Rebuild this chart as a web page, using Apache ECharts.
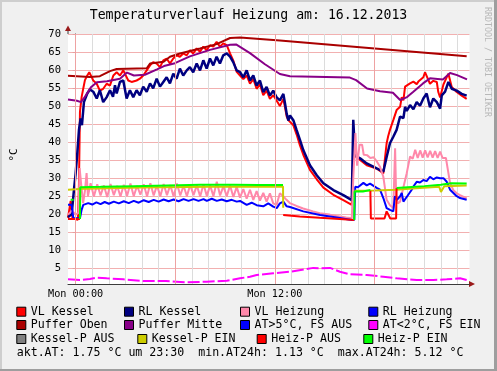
<!DOCTYPE html>
<html><head><meta charset="utf-8">
<script src="https://cdn.jsdelivr.net/npm/echarts@6/dist/echarts.min.js"></script>
<style>html,body{margin:0;padding:0;background:#f0f0f0}#c{width:497px;height:371px}</style>
</head><body><div id="c"></div>
<script>
// ---- data: [hour of day (relative to Mon 00:00), °C] ----
const vlKessel = [[-0.46,19.0],[-0.30,23.7],[-0.19,18.8],[0.14,18.5],[0.20,28.4],[0.26,48.4],[0.36,52.5],[0.46,54.9],[0.56,57.2],[0.70,58.5],[0.82,59.4],[0.96,58.1],[1.06,57.1],[1.27,56.2],[1.46,54.3],[1.57,53.9],[1.66,54.8],[1.87,56.2],[2.07,55.7],[2.27,58.5],[2.47,59.4],[2.67,58.5],[2.87,59.9],[2.97,59.4],[3.17,57.1],[3.37,56.7],[3.67,57.1],[3.87,57.6],[4.07,58.5],[4.28,59.9],[4.48,61.3],[4.67,62.2],[4.88,61.8],[5.08,60.8],[5.28,62.7],[5.48,63.2],[5.68,61.8],[5.88,63.2],[6.08,64.1],[6.28,63.7],[6.48,64.6],[6.69,64.1],[6.88,65.5],[7.08,64.6],[7.29,66.0],[7.49,65.1],[7.69,66.5],[7.89,65.5],[8.09,66.9],[8.29,66.5],[8.49,67.8],[8.69,66.5],[8.89,67.4],[9.10,66.9],[9.30,64.6],[9.49,62.7],[9.70,59.5],[9.90,58.5],[10.10,57.5],[10.30,58.5],[10.50,56.2],[10.70,57.5],[10.90,54.8],[11.10,56.0],[11.30,53.0],[11.50,54.3],[11.70,52.0],[11.90,53.0],[12.11,51.5],[12.30,50.0],[12.51,52.0],[12.61,49.6],[12.71,47.1],[12.81,46.1],[12.91,46.5],[13.11,44.7],[13.31,42.1],[13.51,39.1],[13.71,36.5],[14.11,32.3],[14.52,29.7],[14.92,27.4],[15.52,25.4],[16.12,23.9],[16.63,22.6],[16.72,36.3],[16.90,35.9],[17.53,33.6],[18.13,32.7],[18.53,31.3],[18.73,39.7],[18.83,41.8],[18.93,43.4],[19.13,46.1],[19.33,48.9],[19.54,49.8],[19.64,52.5],[19.74,51.6],[19.84,55.4],[19.94,55.4],[20.14,56.3],[20.34,56.8],[20.54,56.1],[20.64,56.8],[20.74,57.2],[20.94,58.0],[21.04,59.4],[21.14,59.0],[21.34,56.2],[21.54,57.0],[21.75,56.7],[21.84,53.9],[21.95,52.4],[22.15,56.0],[22.25,57.0],[22.45,59.0],[22.65,55.3],[22.95,53.9],[23.25,52.9],[23.55,52.0]];
const rlKessel = [[-0.46,19.2],[-0.24,20.0],[-0.10,26.8],[0.00,31.3],[0.10,36.9],[0.20,43.4],[0.30,46.6],[0.38,44.7],[0.50,51.1],[0.70,53.5],[0.86,54.6],[1.06,54.0],[1.27,52.1],[1.46,54.4],[1.66,51.1],[1.87,52.5],[2.07,54.4],[2.25,52.6],[2.37,55.8],[2.47,53.5],[2.67,56.7],[2.87,57.1],[3.07,52.1],[3.27,54.4],[3.47,52.5],[3.67,54.4],[3.87,53.0],[4.07,55.4],[4.28,54.0],[4.48,56.3],[4.67,54.9],[4.88,57.6],[5.08,55.4],[5.28,56.7],[5.48,58.0],[5.68,56.3],[5.88,59.0],[6.08,57.6],[6.28,60.4],[6.48,58.5],[6.69,59.9],[6.88,60.8],[7.08,59.4],[7.29,61.8],[7.49,59.9],[7.69,62.7],[7.89,60.4],[8.09,63.2],[8.29,61.3],[8.49,63.7],[8.69,61.8],[8.89,64.1],[9.10,64.6],[9.30,63.7],[9.49,62.2],[9.70,59.9],[9.90,59.4],[10.10,58.0],[10.30,59.9],[10.50,57.1],[10.70,58.5],[10.90,55.7],[11.10,57.1],[11.30,53.9],[11.50,55.3],[11.70,52.9],[11.90,54.3],[12.11,52.4],[12.30,51.6],[12.51,53.4],[12.61,50.7],[12.71,47.9],[12.81,46.0],[12.91,47.4],[13.11,46.1],[13.31,43.3],[13.51,40.6],[13.71,37.8],[14.11,33.6],[14.52,30.8],[14.92,28.6],[15.52,26.7],[16.12,25.3],[16.63,23.9],[16.72,46.2],[16.83,36.3],[17.13,35.5],[17.53,34.1],[18.13,32.7],[18.53,31.8],[18.73,35.9],[18.93,39.7],[19.13,41.5],[19.33,43.4],[19.54,47.1],[19.74,46.7],[19.84,49.8],[19.94,48.7],[20.14,50.3],[20.34,49.1],[20.54,51.1],[20.74,50.1],[20.94,52.1],[21.14,53.5],[21.34,49.7],[21.54,52.1],[21.75,51.1],[21.95,49.3],[22.05,53.0],[22.25,54.0],[22.45,56.7],[22.65,54.8],[22.95,54.3],[23.25,53.4],[23.55,52.9]];
const vlHeizung = [[-0.46,19.9],[-0.22,21.0],[0.00,19.9],[0.17,20.4],[0.24,32.8],[0.33,28.5],[0.45,23.1],[0.56,26.5],[0.66,31.4],[0.74,25.0],[0.90,28.6],[1.10,24.9],[1.30,28.3],[1.50,25.2],[1.70,28.0],[1.90,24.8],[2.10,28.4],[2.30,25.3],[2.50,27.9],[2.70,24.9],[2.90,28.2],[3.10,25.1],[3.30,28.5],[3.50,25.0],[3.70,27.9],[3.90,25.4],[4.10,28.3],[4.30,24.9],[4.50,28.6],[4.70,25.2],[4.90,28.0],[5.10,25.0],[5.30,28.4],[5.50,25.3],[5.70,28.1],[5.90,24.9],[6.10,28.5],[6.30,25.2],[6.50,27.9],[6.70,25.0],[6.90,28.2],[7.10,25.3],[7.30,28.0],[7.50,24.9],[7.70,28.3],[7.90,25.1],[8.10,28.0],[8.30,25.0],[8.50,29.0],[8.70,25.2],[8.90,27.8],[9.10,25.0],[9.30,28.0],[9.50,24.8],[9.70,27.6],[9.90,24.6],[10.10,27.0],[10.30,24.3],[10.50,26.8],[10.70,24.0],[10.90,26.4],[11.10,23.8],[11.30,25.9],[11.50,23.5],[11.70,25.8],[11.90,23.0],[12.10,22.6],[12.30,25.8],[12.50,25.0],[12.70,24.0],[12.90,23.1],[13.30,22.3],[13.70,21.6],[14.30,20.8],[14.70,20.3],[15.30,19.9],[15.70,19.5],[16.30,19.1],[16.63,18.9],[16.72,30.0],[16.85,42.5],[16.95,33.5],[17.10,39.3],[17.25,39.3],[17.35,36.5],[17.55,36.4],[17.75,35.6],[17.95,35.8],[18.13,34.7],[18.33,33.2],[18.53,30.4],[18.73,24.0],[18.93,22.5],[19.13,21.7],[19.20,22.0],[19.24,38.3],[19.30,25.5],[19.40,23.0],[19.54,23.5],[19.74,27.5],[19.94,31.4],[20.14,36.0],[20.30,35.4],[20.45,37.9],[20.60,35.6],[20.75,37.7],[20.90,35.7],[21.05,37.7],[21.20,35.8],[21.35,37.6],[21.50,35.7],[21.65,37.5],[21.80,35.6],[21.95,37.4],[22.10,35.6],[22.30,35.6],[22.45,31.4],[22.55,28.6],[22.75,26.7],[22.95,25.8],[23.15,25.3],[23.55,24.4]];
const rlHeizung = [[-0.46,22.6],[-0.24,22.6],[-0.14,18.9],[0.26,18.9],[0.36,21.2],[0.46,22.6],[0.76,23.1],[1.00,22.7],[1.25,23.3],[1.50,22.8],[1.75,23.4],[2.00,22.9],[2.30,23.5],[2.60,23.0],[2.90,23.6],[3.20,23.1],[3.50,23.7],[3.80,23.2],[4.10,23.9],[4.40,23.4],[4.70,24.0],[5.00,23.5],[5.30,24.1],[5.60,23.6],[5.90,24.1],[6.20,23.6],[6.50,24.2],[6.80,23.7],[7.10,24.2],[7.40,23.7],[7.70,24.2],[7.90,23.7],[8.20,24.3],[8.50,23.7],[8.80,24.1],[9.10,23.6],[9.40,24.0],[9.70,23.5],[9.90,23.7],[10.30,22.6],[10.60,23.2],[10.90,22.5],[11.30,22.2],[11.60,23.0],[11.90,22.1],[12.11,21.7],[12.30,23.0],[12.51,23.5],[12.71,22.2],[12.91,22.0],[13.71,20.8],[14.72,19.8],[15.72,19.1],[16.63,18.4],[16.78,18.5],[16.84,27.6],[17.00,27.5],[17.33,28.7],[17.53,28.0],[17.73,28.5],[18.13,27.3],[18.33,26.8],[18.53,24.5],[18.73,21.7],[18.93,21.2],[19.13,20.8],[19.23,25.0],[19.35,24.0],[19.54,25.0],[19.64,25.9],[19.74,23.5],[19.84,23.5],[20.00,25.2],[20.24,26.8],[20.34,27.7],[20.54,29.0],[20.74,28.8],[20.94,29.5],[21.14,29.2],[21.34,30.4],[21.54,29.7],[21.75,30.2],[21.95,30.0],[22.15,30.0],[22.35,29.0],[22.55,26.8],[22.75,25.9],[22.95,25.0],[23.15,24.5],[23.55,24.0]];
const pufferOben = [[-0.46,58.4],[0.86,58.1],[1.46,58.3],[2.07,59.7],[2.47,60.3],[4.28,60.5],[4.48,61.8],[5.30,62.3],[5.68,63.7],[6.28,64.6],[7.49,66.0],[8.49,67.2],[9.30,68.9],[9.90,69.0],[12.30,68.2],[23.55,63.8]];
const pufferMitte = [[-0.46,51.8],[0.08,51.5],[0.32,51.1],[0.50,52.2],[0.92,55.2],[1.28,56.6],[1.89,56.9],[2.67,57.6],[3.09,59.3],[3.51,58.5],[4.17,58.7],[4.90,60.2],[5.32,61.1],[5.98,61.9],[6.88,63.8],[8.09,65.6],[9.30,67.0],[9.66,67.1],[10.50,64.7],[11.40,61.6],[12.30,58.9],[12.91,58.3],[16.52,57.9],[16.89,57.2],[17.55,54.9],[18.33,54.1],[19.11,53.7],[19.54,51.7],[19.96,52.5],[20.32,53.9],[20.92,56.3],[21.34,57.7],[22.12,57.4],[22.55,59.2],[22.97,58.6],[23.57,57.4]];
const atOver5 = [];
const atUnder2 = [[-0.46,1.95],[0.26,1.76],[0.86,2.04],[1.27,2.40],[1.87,2.23],[2.87,1.95],[4.07,1.48],[5.44,1.48],[6.69,1.13],[7.89,1.29],[9.10,1.56],[9.90,2.23],[10.50,2.67],[10.90,3.14],[11.90,3.60],[12.91,4.06],[13.92,4.80],[14.31,5.12],[14.72,5.00],[15.32,5.12],[15.92,4.06],[16.52,3.34],[17.53,3.14],[18.53,2.67],[19.33,2.23],[20.54,1.76],[21.54,1.76],[22.35,1.95],[23.15,2.23],[23.55,1.75]];
const kesselPAus = [];
const kesselPEin = [[-0.46,26.8],[0.50,27.1],[4.00,27.4],[8.00,27.6],[12.49,27.7],[12.50,21.8],[12.51,null],[16.80,26.5],[18.00,26.6],[19.30,26.8],[20.50,27.2],[21.90,27.6],[22.00,26.2],[22.20,27.8],[23.55,28.0]];
const heizPAus = [[-0.46,18.7],[0.26,18.7],[0.30,null],[12.50,19.8],[13.50,19.4],[14.70,19.0],[15.90,18.7],[16.78,18.4],[16.80,null],[17.75,26.5],[17.78,18.8],[18.60,18.8],[18.73,20.8],[18.85,20.8],[18.95,18.8],[19.30,18.8],[19.33,27.3]];
const heizPEin = [[-0.30,24.0],[-0.12,24.0],[-0.10,null],[0.26,18.7],[0.28,27.5],[1.50,27.6],[3.50,27.8],[5.50,28.0],[7.50,28.2],[9.50,28.2],[11.00,28.1],[12.49,28.1],[12.52,null],[16.78,18.4],[16.80,26.3],[17.30,26.3],[17.35,26.7],[17.75,26.7],[17.80,null],[19.33,27.3],[20.00,27.5],[21.00,27.8],[22.00,28.2],[22.60,28.6],[23.55,28.5]];

const seriesNames = ['VL Kessel','RL Kessel','VL Heizung','RL Heizung','Puffer Oben','Puffer Mitte','AT>5°C, FS AUS','AT<2°C, FS EIN','Kessel-P AUS','Kessel-P EIN','Heiz-P AUS','Heiz-P EIN'];
const seriesData = [vlKessel, rlKessel, vlHeizung, rlHeizung, pufferOben, pufferMitte, atOver5, atUnder2, kesselPAus, kesselPEin, heizPAus, heizPEin];
const seriesColors = ['#ff0000','#000080','#ff88aa','#0000ff','#aa0000','#880088','#0000ff','#ff00ff','#808080','#cccc00','#ff0000','#00ff00'];

const yTicks = [5,10,15,20,25,30,35,40,45,50,55,60,65,70];
const xHourTicks = [0,1,2,3,4,5,6,7,8,9,10,11,12,13,14,15,16,17,18,19,20,21,22,23];
const xMajorHours = [0,6,12,18];
const xLabelHours = [0,12];
const xLabelTexts = ['Mon 00:00','Mon 12:00'];
const statNames = ['akt.AT','min.AT24h','max.AT24h'];
const statValues = [1.75, 1.13, 5.12];
const statTime = '23:30';

// ---- layout ----
const MONO = 'DejaVu Sans Mono';
const legendPos = [[16.3,311.7],[124,311.7],[240,311.7],[368.3,311.7],[16.3,325],[124,325],[240,325],[368.3,325],[16.3,339],[137.3,339],[256.7,339],[363.3,339]];

const chart = echarts.init(document.getElementById('c'));
const statText = statNames[0] + ': ' + statValues[0].toFixed(2) + ' °C um ' + statTime + '  ' +
  statNames[1] + ': ' + statValues[1].toFixed(2) + ' °C  ' + statNames[2] + ': ' + statValues[2].toFixed(2) + ' °C';

const gridSeries = {
  name: '__grid', type: 'line', data: [], silent: true, z: 1,
  markLine: {
    silent: true, symbol: ['none', 'none'], label: { show: false }, animation: false,
    lineStyle: { type: 'solid', width: 1, color: '#eea2a2' },
    emphasis: { disabled: true },
    data: xMajorHours.map(h => ({ xAxis: h }))
  }
};

const option = {
  animation: false,
  backgroundColor: '#f0f0f0',
  title: {
    text: 'Temperaturverlauf Heizung am: 16.12.2013', left: 'center', top: 9, padding: 0,
    textStyle: { fontFamily: MONO, fontSize: 13.2, fontWeight: 'normal', color: '#000' }
  },
  grid: { left: 68, right: 27.5, top: 34, bottom: 87, show: true, backgroundColor: '#ffffff', borderWidth: 0 },
  xAxis: {
    type: 'value', min: -0.46, max: 23.72,
    axisLine: { show: true, lineStyle: { color: '#3c3c3c', width: 1 } },
    axisTick: { show: false, customValues: xHourTicks },
    axisLabel: {
      customValues: xLabelHours, margin: 5,
      formatter: v => { const i = xLabelHours.indexOf(v); return i >= 0 ? xLabelTexts[i] : ''; },
      fontFamily: MONO, fontSize: 10.2, color: '#000'
    },
    splitLine: { show: true, lineStyle: { width: 1, color: '#dcdcdc' } }
  },
  yAxis: {
    type: 'value', min: 0.65, max: 70,
    axisLine: { show: true, lineStyle: { color: '#3c3c3c', width: 1 } },
    axisTick: { show: true, length: 3, customValues: yTicks, lineStyle: { color: '#e6a0a0' } },
    axisLabel: { customValues: yTicks, margin: 7, fontFamily: MONO, fontSize: 10.5, color: '#000' },
    splitLine: { show: true, lineStyle: { color: '#f2b0b0', width: 1 } }
  },
  legend: seriesNames.map((n, i) => ({
    data: [n], left: legendPos[i][0], top: legendPos[i][1] - 7, padding: 0,
    icon: 'rect', itemWidth: 9, itemHeight: 9, selectedMode: false,
    itemStyle: { borderColor: '#000', borderWidth: 1 },
    textStyle: { fontFamily: MONO, fontSize: 11.6, color: '#000', lineHeight: 14 }
  })),
  graphic: [
    { type: 'rect', shape: { x: 0, y: 0, width: 497, height: 2 }, style: { fill: '#cecece' }, silent: true },
    { type: 'rect', shape: { x: 0, y: 0, width: 2, height: 371 }, style: { fill: '#cecece' }, silent: true },
    { type: 'rect', shape: { x: 494, y: 0, width: 3, height: 371 }, style: { fill: '#9e9e9e' }, silent: true },
    { type: 'rect', shape: { x: 0, y: 369, width: 497, height: 2 }, style: { fill: '#9e9e9e' }, silent: true },
    { type: 'text', x: 14, y: 155, rotation: Math.PI / 2, style: { text: '°C', fontFamily: MONO, fontSize: 11, fill: '#000', align: 'center', verticalAlign: 'middle' } },
    { type: 'text', x: 487, y: 62, rotation: -Math.PI / 2, style: { text: 'RRDTOOL / TOBI OETIKER', fontFamily: MONO, fontSize: 8.3, fill: '#b8b8b8', align: 'center', verticalAlign: 'middle' } },
    { type: 'text', x: 16.7, y: 352.7, style: { text: statText, fontFamily: MONO, fontSize: 11.6, fill: '#000', align: 'left', verticalAlign: 'middle' } },
    { type: 'line', shape: { x1: 68, y1: 34, x2: 68, y2: 30 }, style: { stroke: '#3c3c3c', lineWidth: 1 } },
    { type: 'polygon', shape: { points: [[65, 31], [71, 31], [68, 25.5]] }, style: { fill: '#9a1a1a' } },
    { type: 'polygon', shape: { points: [[469, 281], [469, 287], [475, 284]] }, style: { fill: '#9a1a1a' } }
  ],
  series: [gridSeries].concat(seriesNames.map((n, i) => ({
    name: n, type: 'line', data: seriesData[i], color: seriesColors[i], z: 2,
    showSymbol: false, symbol: 'none', connectNulls: false,
    lineStyle: {
      width: i === 1 ? 2.5 : 2, color: seriesColors[i],
      type: i === 7 ? [12, 3] : 'solid'
    },
    emphasis: { disabled: true }
  })))
};
chart.setOption(option);
</script>
</body></html>
